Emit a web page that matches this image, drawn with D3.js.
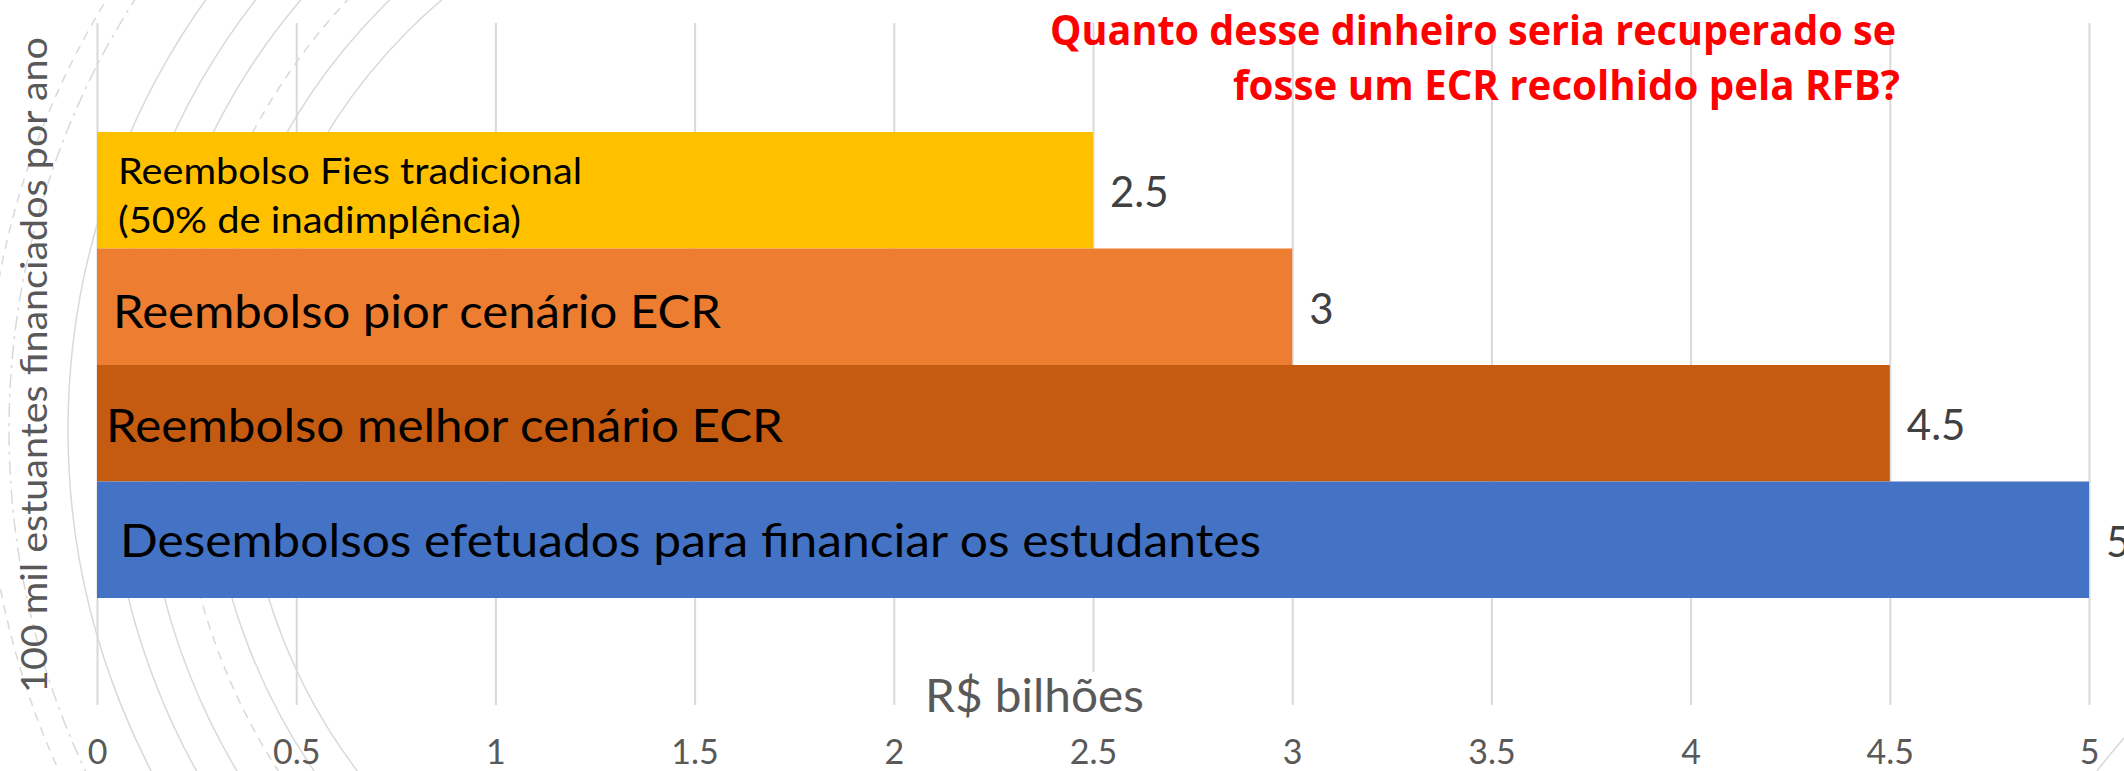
<!DOCTYPE html>
<html>
<head>
<meta charset="utf-8">
<script src="https://cdn.jsdelivr.net/npm/d3@7"></script>
<style>
  html, body { margin: 0; padding: 0; background: #fff; }
  svg { display: block; }
</style>
</head>
<body>
<div id="chart"></div>
<script>
// chart data
const categories = ["fies", "pior", "melhor", "desembolsos"];
const values = [2.5, 3, 4.5, 5];
const barLabels = [
    ["Reembolso Fies tradicional", "(50% de inadimplência)"],
    ["Reembolso pior cenário ECR"],
    ["Reembolso melhor cenário ECR"],
    ["Desembolsos efetuados para financiar os estudantes"]
];
const xTicks = [0, 0.5, 1, 1.5, 2, 2.5, 3, 3.5, 4, 4.5, 5];
const titleLines = ["Quanto desse dinheiro seria recuperado se", "fosse um ECR recolhido pela RFB?"];
const xTitle = "R$ bilhões";
const yTitle = "100 mil estuantes financiados por ano";

const width = 2124, height = 771;
const colors = ["#FFC000", "#ED7D31", "#C55A11", "#4472C4"];
const font = "Lato, 'Open Sans', sans-serif";

const svg = d3.select("#chart")
    .append("svg")
    .attr("width", width)
    .attr("height", height);

// decorative background arcs (slide theme), only the left side is shown
svg.append("defs").append("clipPath")
    .attr("id", "leftClip")
    .append("rect")
    .attr("x", 0).attr("y", 0)
    .attr("width", 800).attr("height", height);

const arcs = [
    { r: 823, dash: "9,7" },
    { r: 799, dash: "14,6,3,6" },
    { r: 740, dash: null },
    { r: 700, dash: null },
    { r: 665, dash: null },
    { r: 630, dash: "9,7" },
    { r: 600, dash: null },
    { r: 565, dash: null }
];
svg.append("g")
    .attr("clip-path", "url(#leftClip)")
    .selectAll("circle")
    .data(arcs)
    .enter()
    .append("circle")
    .attr("cx", 808)
    .attr("cy", 430)
    .attr("r", d => d.r)
    .attr("fill", "none")
    .attr("stroke", "#d9d9d9")
    .attr("stroke-width", 1.5)
    .attr("stroke-dasharray", d => d.dash);

// small arc piece at the bottom right corner
svg.append("path")
    .attr("d", "M2124,738 Q2110,754 2097,771")
    .attr("fill", "none")
    .attr("stroke", "#d9d9d9")
    .attr("stroke-width", 1.5);

// scales
const x = d3.scaleLinear()
    .domain([0, 5])
    .range([97, 2089]);

const y = d3.scaleBand()
    .domain(categories)
    .range([132, 598])
    .padding(0);

// gridlines
const grid = svg.append("g")
    .attr("transform", "translate(0,705)")
    .call(d3.axisBottom(x).tickValues(xTicks).tickSize(-682).tickFormat(""));
grid.select(".domain").remove();
grid.selectAll("line").attr("stroke", "#d9d9d9").attr("stroke-width", 2);

// x tick labels
const xAxis = svg.append("g")
    .attr("transform", "translate(0,764)")
    .call(d3.axisBottom(x).tickValues(xTicks).tickSize(0).tickFormat(d => String(d)));
xAxis.select(".domain").remove();
xAxis.selectAll("text")
    .attr("y", 0)
    .attr("dy", 0)
    .attr("fill", "#595959")
    .style("font-family", font)
    .style("font-size", "34px");

// x axis title, white box hides the gridline behind it
svg.append("rect")
    .attr("x", 915).attr("y", 672)
    .attr("width", 240).attr("height", 50)
    .attr("fill", "#fff");
svg.append("text")
    .attr("x", 925)
    .attr("y", 712)
    .attr("textLength", 219)
    .attr("lengthAdjust", "spacingAndGlyphs")
    .attr("fill", "#595959")
    .style("font-family", font)
    .style("font-size", "46px")
    .text(xTitle);

// y axis title
svg.append("text")
    .attr("transform", "translate(47,693) rotate(-90)")
    .attr("textLength", 656)
    .attr("lengthAdjust", "spacingAndGlyphs")
    .attr("fill", "#595959")
    .style("font-family", font)
    .style("font-size", "37px")
    .text(yTitle);

// bars
svg.append("g")
    .selectAll("rect")
    .data(categories)
    .enter()
    .append("rect")
    .attr("x", x(0))
    .attr("y", d => y(d))
    .attr("width", (d, i) => x(values[i]) - x(0))
    .attr("height", y.bandwidth())
    .attr("fill", (d, i) => colors[i]);

// labels inside bars
const labelStyle = [
    { dx: 21, size: 36, base: [-6, 43], len: [464, 403] },
    { dx: 16, size: 46, base: [21], len: [608] },
    { dx: 9, size: 46, base: [19], len: [677] },
    { dx: 23, size: 46, base: [17], len: [1141] }
];
categories.forEach((c, i) => {
    const st = labelStyle[i];
    barLabels[i].forEach((line, j) => {
        svg.append("text")
            .attr("x", x(0) + st.dx)
            .attr("y", y(c) + y.bandwidth() / 2 + st.base[j])
            .attr("textLength", st.len[j])
            .attr("lengthAdjust", "spacingAndGlyphs")
            .attr("fill", "#000")
            .style("font-family", font)
            .style("font-size", st.size + "px")
            .text(line);
    });
});

// value labels
svg.append("g")
    .selectAll("text")
    .data(categories)
    .enter()
    .append("text")
    .attr("x", (d, i) => x(values[i]) + 17)
    .attr("y", d => y(d) + y.bandwidth() / 2 + 17)
    .attr("fill", "#404040")
    .style("font-family", font)
    .style("font-size", "42px")
    .text((d, i) => String(values[i]));

// red question title
const titleX = [1050, 1233];
const titleLen = [846, 667];
titleLines.forEach((line, j) => {
    svg.append("text")
        .attr("x", titleX[j])
        .attr("y", 45 + j * 55)
        .attr("textLength", titleLen[j])
        .attr("lengthAdjust", "spacingAndGlyphs")
        .attr("fill", "#FF0000")
        .style("font-family", "'Open Sans', sans-serif")
        .style("font-weight", "bold")
        .style("font-size", "42px")
        .text(line);
});
</script>
</body>
</html>
